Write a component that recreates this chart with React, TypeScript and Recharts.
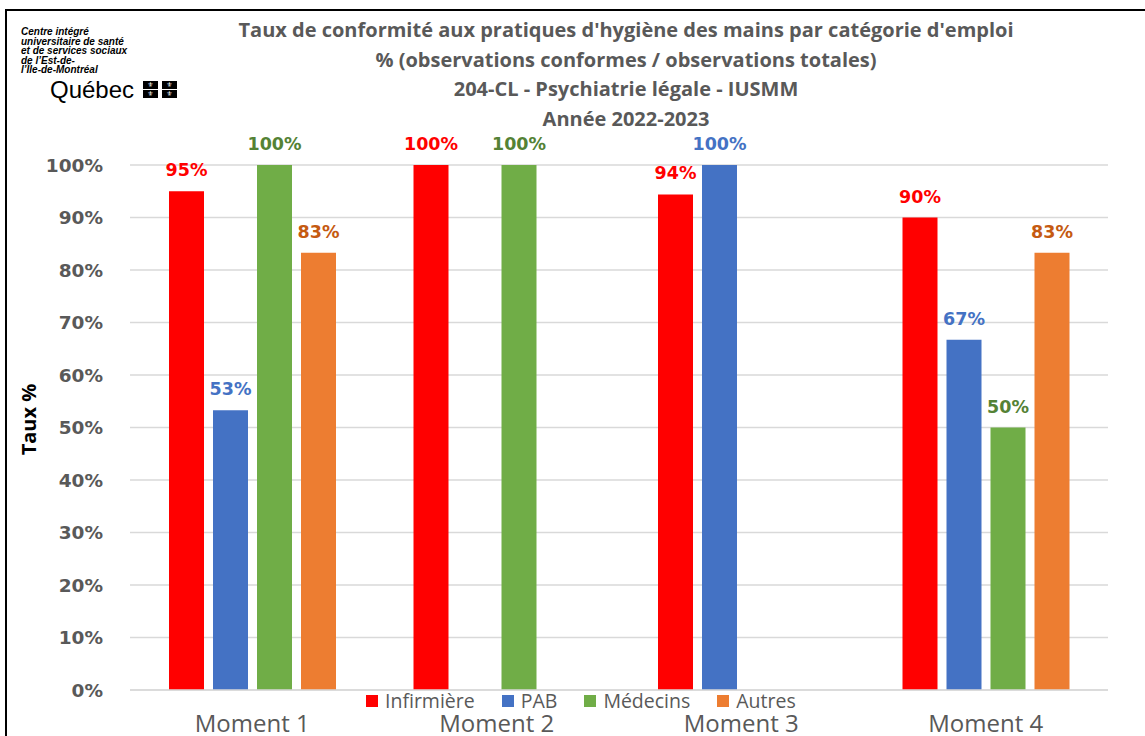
import { BarChart, Bar, XAxis, YAxis, CartesianGrid, Legend, LabelList } from 'recharts';

const moments = ['Moment 1', 'Moment 2', 'Moment 3', 'Moment 4'];
const infirmiere = [95, 100, 94.4, 90];
const pab = [53.3, null, 100, 66.7];
const medecins = [100, 100, null, 50];
const autres = [83.3, null, null, 83.3];
const yTicks = [0, 10, 20, 30, 40, 50, 60, 70, 80, 90, 100];

const titleLines = [
  "Taux de conformité aux pratiques d'hygiène des mains par catégorie d'emploi",
  '% (observations conformes / observations totales)',
  '204-CL - Psychiatrie légale - IUSMM',
  'Année 2022-2023',
];

const logoLines = [
  'Centre intégré',
  'universitaire de santé',
  'et de services sociaux',
  "de l’Est-de-",
  "l’Île-de-Montréal",
];

const series = [
  { key: 'infirmiere', name: 'Infirmière', color: '#FF0000', labelColor: '#FF0000' },
  { key: 'pab', name: 'PAB', color: '#4472C4', labelColor: '#4472C4' },
  { key: 'medecins', name: 'Médecins', color: '#70AD47', labelColor: '#548235' },
  { key: 'autres', name: 'Autres', color: '#ED7D31', labelColor: '#C55A11' },
];

const data = moments.map((m, i) => ({
  moment: m,
  infirmiere: infirmiere[i],
  pab: pab[i],
  medecins: medecins[i],
  autres: autres[i],
}));

const pct = (v: any) => (v == null ? '' : `${Math.round(Number(v))}%`);

const renderLegend = () => (
  <div style={{ display: 'flex', alignItems: 'center', fontFamily: 'Open Sans', fontSize: 19.5, lineHeight: '18px', color: '#595959', whiteSpace: 'nowrap' }}>
    {series.map((s) => (
      <span key={s.key} style={{ display: 'flex', alignItems: 'center', marginRight: 27 }}>
        <span style={{ width: 12, height: 12, background: s.color, display: 'inline-block', marginRight: 7 }} />
        {s.name}
      </span>
    ))}
  </div>
);

const YLabel = (props: any) => {
  const vb = props.viewBox || {};
  const cx = 28;
  const cy = vb.y + vb.height / 2 - 8;
  return (
    <text x={cx} y={cy} transform={`rotate(-90 ${cx} ${cy})`} textAnchor="middle" dominantBaseline="central"
      fill="#000" fontFamily="Open Sans" fontWeight="bold" fontSize={20}>
      Taux %
    </text>
  );
};

const Flag = () => (
  <div style={{ position: 'absolute', left: 143, top: 81, width: 34, height: 17 }}>
    {[0, 1].map((r) =>
      [0, 1].map((c) => (
        <div key={`${r}-${c}`} style={{
          position: 'absolute', left: c * 19, top: r * 9, width: 15, height: 8, background: '#000',
          color: '#fff', fontSize: 7, lineHeight: '8px', textAlign: 'center', fontFamily: 'DejaVu Sans',
        }}>⚜</div>
      ))
    )}
  </div>
);

export default function App() {
  return (
    <div style={{ position: 'absolute', left: 0, top: 0, width: 1145, height: 736, background: '#fff', overflow: 'hidden' }}>
      <div style={{ position: 'absolute', left: 5, top: 9, width: 1140, height: 2, background: '#000' }} />
      <div style={{ position: 'absolute', left: 5, top: 9, width: 2, height: 727, background: '#000' }} />

      <div style={{ position: 'absolute', left: 21, top: 27, fontFamily: 'Liberation Sans', fontWeight: 'bold', fontStyle: 'italic', fontSize: 10, lineHeight: '9.5px', color: '#000' }}>
        {logoLines.map((l) => <div key={l}>{l}</div>)}
      </div>
      <div style={{ position: 'absolute', left: 50, top: 76, fontFamily: 'Liberation Sans', fontSize: 24, color: '#000' }}>Québec</div>
      <Flag />

      <div style={{ position: 'absolute', left: 126, top: 15, width: 1000, textAlign: 'center', fontFamily: 'Open Sans', fontWeight: 'bold', fontSize: 20, lineHeight: '29.5px', color: '#595959' }}>
        {titleLines.map((l) => <div key={l}>{l}</div>)}
      </div>

      <div style={{ position: 'absolute', left: 0, top: 0 }}>
        <BarChart width={1145} height={736} data={data} margin={{ top: 165, right: 37, bottom: 0, left: 0 }} barSize={35} barGap={9}>
          <CartesianGrid vertical={false} stroke="#D9D9D9" strokeWidth={1.5} />
          <XAxis dataKey="moment" height={46} axisLine={{ stroke: '#D9D9D9', strokeWidth: 1.5 }} tickLine={false} tickMargin={19}
            tick={{ fill: '#595959', fontSize: 24, fontFamily: 'Open Sans' }} interval={0} />
          <YAxis width={130} domain={[0, 100]} ticks={yTicks} interval={0} axisLine={false} tickLine={false} tickMargin={21}
            tickFormatter={(v) => `${v}%`} tick={{ fill: '#595959', fontSize: 18.5, fontWeight: 'bold', fontFamily: 'DejaVu Sans' }}
            label={<YLabel />} />
          <Legend verticalAlign="middle" align="center" content={renderLegend} wrapperStyle={{ left: 366, top: 692, width: 'auto' }} />
          {series.map((s) => (
            <Bar key={s.key} dataKey={s.key} name={s.name} fill={s.color} isAnimationActive={false}>
              <LabelList dataKey={s.key} position="top" offset={15} formatter={pct}
                fill={s.labelColor} style={{ fontSize: 17.5, fontWeight: 'bold', fontFamily: 'DejaVu Sans' }} />
            </Bar>
          ))}
        </BarChart>
      </div>
    </div>
  );
}
